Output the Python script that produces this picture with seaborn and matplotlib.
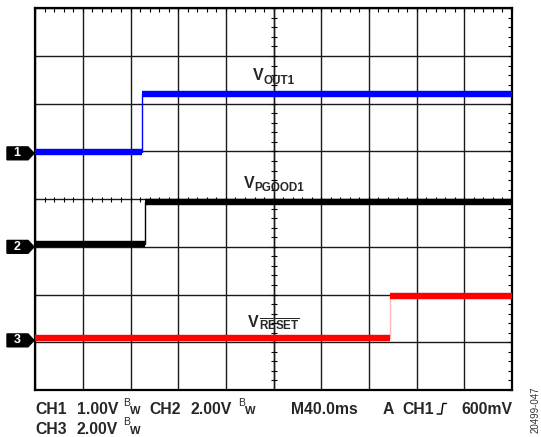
import numpy as np
import pandas as pd
import matplotlib.pyplot as plt
import seaborn as sns
import matplotlib.transforms as mtransforms
from matplotlib.patches import Polygon
from matplotlib.lines import Line2D
from matplotlib.ticker import MultipleLocator
from matplotlib.font_manager import FontProperties

channels = ["CH1", "CH2", "CH3"]
marker_text = ["1", "2", "3"]
volts_per_div = [1.0, 2.0, 2.0]
ground_div = [0.96, -1.0, -2.96]      # channel ground marker (divisions)
edge_ms = [89.3, 92.5, 298.0]         # rising edge time
low_v = [0.02, 0.10, 0.08]
high_v = [1.24, 1.90, 1.84]
label_subs = ["OUT1", "PGOOD1", r"$\overline{\mathrm{RESET}}$"]
t_start, t_end = 0.0, 400.0           # 10 div x 40 ms

# --- styles / layout ---
band_colors = ["#0000ff", "#000000", "#ff0000"]
edge_colors = ["#0000ff", "#000000", "#ffb8b8"]
label_y = [2.49, 0.24, -2.68]
W, H = 541, 437

# --- build tables ---
steps, bands = [], []
for ch, g, vpd, te, lo, hi in zip(channels, ground_div, volts_per_div, edge_ms, low_v, high_v):
    ylo, yhi = g + lo / vpd, g + hi / vpd
    for t, y in zip([t_start, te, te, t_end], [ylo, ylo, yhi, yhi]):
        steps.append(dict(channel=ch, t=t, div=y))
    for seg, (a, b, y) in {"lo": (t_start, te, ylo), "hi": (te, t_end, yhi)}.items():
        bands.append(dict(channel=ch, seg=ch + seg, t=a, div=y))
        bands.append(dict(channel=ch, seg=ch + seg, t=b, div=y))
steps = pd.DataFrame(steps)
bands = pd.DataFrame(bands)

sns.set_style("white")
plt.rcParams['font.family'] = ['Liberation Sans', 'DejaVu Sans']
plt.rcParams['mathtext.fontset'] = 'custom'
plt.rcParams['mathtext.rm'] = 'Liberation Sans:bold'
plt.rcParams['mathtext.it'] = 'Liberation Sans:bold'
plt.rcParams['mathtext.bf'] = 'Liberation Sans:bold'

fig = plt.figure(figsize=(W / 100, H / 100), dpi=100, facecolor='white')
ax = fig.add_axes([35.2 / W, 1 - 390 / H, (512 - 35.2) / W, (390 - 8.3) / H])

# --- traces ---
sns.lineplot(data=steps, x="t", y="div", hue="channel", units="channel",
             estimator=None, sort=False, palette=dict(zip(channels, edge_colors)),
             lw=1.0, legend=False, ax=ax, zorder=3)
sns.lineplot(data=bands, x="t", y="div", hue="channel", units="seg",
             estimator=None, sort=False, palette=dict(zip(channels, band_colors)),
             lw=4.6, legend=False, ax=ax, zorder=4, solid_capstyle='butt')

# --- graticule ---
ax.set_xlim(t_start, t_end)
ax.set_ylim(-4, 4)
ax.xaxis.set_major_locator(MultipleLocator(40))
ax.xaxis.set_minor_locator(MultipleLocator(8))
ax.yaxis.set_major_locator(MultipleLocator(1))
ax.yaxis.set_minor_locator(MultipleLocator(0.2))
ax.grid(True, which='major', color='#1a1a1a', lw=1.0, zorder=1)
ax.set_axisbelow(True)
ax.tick_params(which='both', direction='in', length=3, width=0.8, color='black',
               top=True, right=True, labelbottom=False, labelleft=False)
for s in ax.spines.values():
    s.set_color('black')
    s.set_linewidth(1.6)
ax.set_xlabel("")
ax.set_ylabel("")

mid_t = (t_start + t_end) / 2
tx = np.arange(t_start, t_end + 0.1, 8)
ty = np.arange(-4, 4.01, 0.2)
ax.plot(tx, np.zeros_like(tx), ls='none', marker='|', ms=3.6, mew=0.8, color='black', zorder=2)
ax.plot(np.full_like(ty, mid_t), ty, ls='none', marker='_', ms=4.6, mew=0.8, color='black', zorder=2)
ax.axvline(mid_t, color='#1a1a1a', lw=1.0, zorder=1)

# --- trace labels: V + subscript, centred on the middle line ---
renderer = fig.canvas.get_renderer()
fp_main = FontProperties(family='Liberation Sans', weight='bold', size=11.5)
fp_sub = FontProperties(family='Liberation Sans', weight='bold', size=8.4)
w_v = renderer.get_text_width_height_descent("V", fp_main, ismath=False)[0] * 72 / 100
for sub, y in zip(label_subs, label_y):
    w_s = renderer.get_text_width_height_descent(sub, fp_sub, ismath=sub.startswith('$'))[0] * 72 / 100
    x0 = -(w_v + w_s) / 2
    ax.annotate("V", (mid_t, y), xytext=(x0, 0), textcoords='offset points',
                ha='left', va='baseline', fontproperties=fp_main, zorder=5)
    ax.annotate(sub, (mid_t, y), xytext=(x0 + w_v, -2.4), textcoords='offset points',
                ha='left', va='baseline', fontproperties=fp_sub, zorder=5)

# --- channel ground markers ---
trans = mtransforms.blended_transform_factory(fig.transFigure, ax.transData)
h = 0.135
for g, m in zip(ground_div, marker_text):
    poly = Polygon([(7 / W, g - h), (28 / W, g - h), (34 / W, g), (28 / W, g + h), (7 / W, g + h)],
                   closed=True, transform=trans, facecolor='black', edgecolor='black', clip_on=False)
    fig.add_artist(poly)
    fig.text(17 / W, g, m, transform=trans, color='white', fontsize=9, fontweight='bold',
             ha='center', va='center')

# --- scope settings readout ---
def ftext(x, y, s, **kw):
    fig.text(x / W, 1 - y / H, s, va='baseline', ha='left', **kw)

def bw(x, y):
    ftext(x, y - 8.5, "B", fontsize=7.5)
    ftext(x + 6.5, y, "W", fontsize=8, fontweight='bold')

r1, r2 = 414, 433.5
for s, x in [("CH1", 35.2), ("1.00V", 76.6), ("CH2", 149.3), ("2.00V", 190.7),
             ("M40.0ms", 290.7), ("A", 382.8), ("CH1", 402.8), ("600mV", 461.4)]:
    ftext(x, r1, s, fontsize=11.3, fontweight='bold')
bw(123.4, r1)
bw(238.6, r1)
for s, x in [("CH3", 35.2), ("2.00V", 76.6)]:
    ftext(x, r2, s, fontsize=11.3, fontweight='bold')
bw(123.4, r2)

# trigger slope symbol
xs = np.array([437, 441.5, 443, 446.5]) / W
ys = 1 - np.array([414, 414, 403.5, 403.5]) / H
fig.add_artist(Line2D(xs, ys, color='black', lw=1.0, transform=fig.transFigure))

fig.text(536 / W, 1 - 410 / H, "20499-047", rotation=90, fontsize=7, color='#333333',
         ha='center', va='center')

plt.savefig("out.png", dpi=100, facecolor='white')
plt.close()
